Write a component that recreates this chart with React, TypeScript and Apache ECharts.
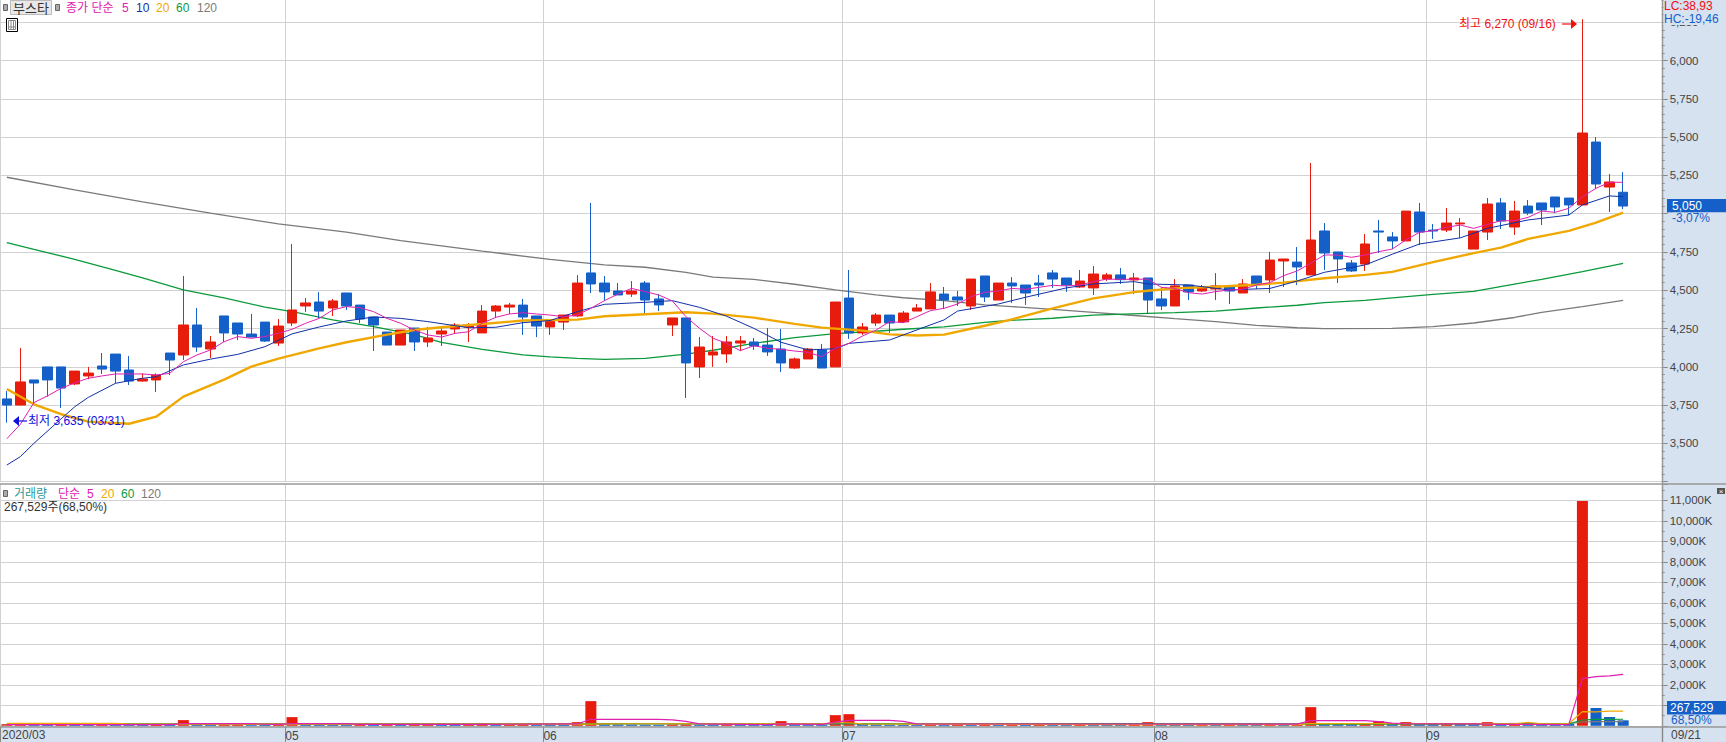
import React, { useEffect, useRef } from "react";
import * as echarts from "echarts";

const FONT = '"Liberation Sans","Noto Sans CJK KR",sans-serif';
const RED = "#e81c0c";
const BLUE = "#1460c8";
const MAGENTA = "#e020b0";
const NAVY = "#1030a8";
const ORANGE = "#f0a800";
const GREEN = "#0a9a3c";
const GREY = "#7a7a7a";
const PANEL = "#d6e2f0";
const GRID = "#d2d2d2";

// open, close, low, high
const candleRows: number[][] = [
  [3790,3750,3635,3842],[3750,3901,3750,4123],[3914,3894,3761,3914],[3999,3914,3805,3999],[3999,3861,3731,3999],
  [3888,3972,3881,3972],[3940,3959,3918,3999],[4005,3985,3953,4090],[4083,3972,3892,4083],[3979,3907,3881,4070],
  [3907,3920,3903,3957],[3914,3946,3835,3957],[4090,4044,3946,4090],[4077,4273,4044,4593],[4273,4129,4097,4384],
  [4116,4162,4057,4201],[4332,4221,4162,4332],[4286,4214,4175,4286],[4214,4194,4194,4345],[4292,4168,4162,4292],
  [4155,4266,4136,4312],[4286,4371,4266,4802],[4397,4417,4358,4449],[4423,4364,4319,4488],[4384,4430,4332,4443],
  [4482,4397,4371,4482],[4403,4312,4286,4403],[4325,4273,4103,4325],[4227,4142,4142,4227],[4142,4240,4142,4240],
  [4253,4162,4103,4253],[4162,4188,4129,4260],[4214,4234,4136,4260],[4247,4273,4214,4286],[4260,4273,4162,4286],
  [4221,4364,4221,4403],[4364,4397,4319,4403],[4390,4403,4345,4417],[4403,4325,4208,4443],[4332,4266,4194,4332],
  [4260,4299,4208,4312],[4292,4338,4240,4338],[4332,4547,4325,4599],[4613,4541,4482,5070],[4547,4489,4430,4593],
  [4495,4469,4469,4547],[4475,4495,4456,4560],[4547,4436,4345,4560],[4443,4404,4364,4475],[4273,4319,4201,4319],
  [4319,4025,3796,4319],[3999,4129,3927,4195],[4077,4097,3999,4201],[4084,4162,4025,4201],[4155,4169,4103,4201],
  [4162,4136,4110,4188],[4142,4097,4071,4253],[4116,4025,3966,4247],[3992,4051,3986,4060],[4051,4116,4051,4123],
  [4110,3992,3992,4149],[3999,4423,3999,4423],[4449,4221,4182,4632],[4221,4260,4208,4286],[4286,4338,4266,4351],
  [4338,4286,4221,4338],[4293,4351,4286,4364],[4364,4384,4364,4410],[4378,4489,4378,4547],[4475,4436,4378,4521],
  [4456,4436,4397,4495],[4397,4573,4371,4573],[4593,4456,4423,4593],[4436,4547,4436,4547],[4547,4528,4417,4586],
  [4534,4482,4404,4534],[4547,4534,4456,4600],[4613,4573,4515,4632],[4580,4534,4489,4580],[4521,4560,4515,4632],
  [4515,4606,4469,4658],[4573,4600,4560,4613],[4600,4569,4541,4645],[4567,4580,4475,4613],[4580,4436,4345,4580],
  [4443,4397,4371,4521],[4397,4528,4397,4573],[4534,4489,4436,4534],[4495,4515,4489,4534],[4508,4528,4436,4612],
  [4528,4495,4410,4528],[4482,4541,4482,4573],[4593,4541,4508,4593],[4567,4697,4482,4750],[4691,4704,4521,4704],
  [4684,4652,4534,4782],[4600,4828,4600,5331],[4887,4743,4632,4939],[4750,4704,4547,4750],[4678,4626,4619,4697],
  [4671,4802,4626,4867],[4887,4880,4743,4959],[4848,4822,4769,4880],[4822,5017,4822,5017],[5011,4880,4795,5070],
  [4893,4887,4835,4933],[4893,4939,4880,5037],[4933,4939,4841,4972],[4769,4887,4769,4887],[4880,5063,4828,5102],
  [5070,4952,4900,5102],[4913,5017,4861,5083],[5050,5004,4991,5089],[5070,5024,4926,5070],[5109,5044,5004,5109],
  [5102,5057,4991,5102],[5057,5527,5057,6270],[5468,5194,5161,5501],[5174,5207,5011,5259],[5140,5050,5030,5272],
];

const ma5: number[] = [
  3530,3624,3766,3810,3859,3895,3925,3940,3953,3953,3953,3946,3957,4033,4077,4110,4164,4197,4186,4197,
  4218,4245,4284,4316,4371,4393,4386,4360,4316,4284,4240,4208,4194,4218,4229,4284,4323,4345,4353,4345,
  4338,4327,4338,4382,4432,4475,4512,4491,4469,4430,4327,4251,4186,4153,4105,4138,4121,4114,4103,4094,
  4066,4121,4153,4201,4240,4295,4288,4327,4367,4382,4410,4458,4486,4495,4512,4506,4519,4532,4528,4534,
  4556,4573,4571,4571,4573,4519,4512,4484,4475,4491,4502,4506,4534,4550,4595,4626,4676,4730,4730,4715,
  4730,4752,4769,4828,4878,4889,4911,4926,4904,4930,4954,4954,4976,5017,5009,5035,5111,5166,5205,5205,
];

// values read at the marked sessions: [session, value]
const ma10Read: number[][] = [[0,3358],[1,3413],[2,3500],[4,3660],[5,3739],[6,3800],[8,3892],[10,3925],[11,3935],[13,4012],[15,4050],[17,4081],[19,4131],[21,4215],[23,4260],[25,4299],[27,4325],[29,4316],[31,4295],[34,4255],[36,4258],[38,4288],[40,4302],[42,4360],[44,4408],[47,4421],[49,4432],[51,4388],[53,4330],[55,4251],[57,4160],[59,4110],[61,4118],[62,4153],[65,4175],[66,4208],[69,4306],[70,4364],[73,4410],[75,4454],[78,4515],[80,4541],[83,4556],[84,4541],[87,4534],[90,4502],[93,4512],[95,4560],[97,4617],[100,4665],[102,4735],[104,4802],[107,4842],[109,4904],[112,4959],[115,4991],[116,5057],[118,5116],[119,5111]];
const ma20Read: number[][] = [[0,3855],[2,3755],[4,3690],[6,3642],[9,3628],[11,3674],[13,3805],[16,3916],[18,4001],[20,4053],[23,4120],[25,4160],[28,4210],[30,4240],[32,4258],[35,4279],[38,4302],[40,4305],[42,4308],[44,4330],[47,4343],[50,4356],[52,4347],[55,4321],[58,4280],[60,4256],[63,4236],[65,4212],[67,4204],[69,4210],[72,4268],[74,4310],[77,4382],[80,4447],[83,4488],[84,4497],[86,4512],[89,4523],[92,4536],[94,4550],[97,4578],[100,4600],[102,4620],[105,4684],[108,4742],[110,4778],[112,4835],[115,4888],[117,4941],[119,5007]];
const ma60Read: number[][] = [[0,4811],[2,4767],[5,4702],[8,4630],[10,4580],[13,4503],[16,4450],[19,4390],[21,4360],[24,4306],[27,4262],[30,4210],[32,4160],[35,4114],[38,4078],[40,4065],[42,4055],[44,4049],[47,4055],[50,4082],[52,4108],[55,4153],[58,4190],[61,4217],[64,4232],[66,4245],[69,4260],[72,4290],[74,4304],[77,4317],[80,4338],[84,4349],[86,4354],[89,4364],[92,4384],[95,4402],[97,4419],[100,4434],[102,4450],[105,4473],[108,4493],[111,4540],[113,4571],[116,4621],[119,4676]];
const ma120Read: number[][] = [[0,5238],[5,5155],[10,5077],[15,5003],[20,4933],[25,4879],[29,4824],[35,4755],[40,4702],[44,4665],[47,4650],[50,4617],[52,4586],[55,4571],[58,4539],[61,4502],[64,4470],[66,4451],[69,4432],[72,4405],[74,4393],[77,4375],[80,4356],[83,4335],[86,4314],[89,4295],[92,4271],[95,4255],[97,4249],[102,4251],[105,4262],[108,4286],[111,4322],[113,4356],[116,4393],[119,4434]];

// thousands of shares
const volumes: number[] = [
  70,75,60,50,62,52,45,60,50,42,38,50,45,277,65,55,60,70,60,50,
  65,423,80,70,60,50,60,50,60,50,60,65,55,48,60,130,60,70,75,60,
  50,45,179,1204,80,70,60,50,45,60,65,55,50,60,50,45,40,228,60,50,
  45,520,568,80,70,60,50,45,60,50,60,50,60,50,60,50,60,50,45,60,
  50,45,40,55,179,60,50,45,55,50,60,50,45,60,50,60,911,130,125,115,
  130,228,120,179,110,100,110,100,90,179,130,140,120,110,90,85,10966,868,429,267.529,
];
const volMa5Read: number[][] = [[0,60],[8,60],[9,55],[12,60],[13,105],[18,105],[19,75],[20,70],[21,105],[25,105],[26,70],[35,70],[42,90],[43,317],[48,317],[49,290],[50,220],[51,90],[56,60],[57,90],[60,70],[61,180],[62,260],[65,260],[66,220],[67,90],[95,80],[96,250],[100,250],[101,200],[102,130],[103,100],[108,90],[110,70],[115,60],[116,2298],[117,2400],[118,2440],[119,2512]];
const volMa20Read: number[][] = [[0,115],[8,115],[9,80],[42,85],[46,100],[60,100],[61,150],[62,150],[63,90],[82,60],[95,60],[96,110],[111,100],[112,170],[113,100],[115,100],[116,690],[117,680],[118,720],[119,720]];
const volMa60Read: number[][] = [[0,80],[42,80],[44,100],[82,100],[96,85],[115,95],[116,283],[117,316],[118,316],[119,320]];
const volMa120Read: number[][] = [[0,95],[60,95],[115,100],[116,185],[117,200],[119,200]];

const monthLabels: Record<number, string> = { 21: "05", 40: "06", 62: "07", 85: "08", 105: "09" };
const monthStarts = [0, 21, 40, 62, 85, 105];
const categories = Array.from({ length: 123 }, (_, i) => String(i));

const fromRead = (rows: number[][]) => {
  const out: (number | null)[] = Array(120).fill(null);
  rows.forEach(([i, v]) => (out[i] = v));
  return out;
};
const isMonthStart = (i: number) => monthStarts.includes(i);

const T = (text: string, x: number, y: number, fill: string, size = 12, z = 20, align = "left") => ({
  type: "text", x, y, z, silent: true,
  style: { text, fill, font: `${size}px ${FONT}`, textAlign: align, textVerticalAlign: "middle" },
});
const R = (x: number, y: number, width: number, height: number, fill: string, z = 20, stroke?: string) => ({
  type: "rect", z, silent: true, shape: { x, y, width, height }, style: { fill, stroke, lineWidth: stroke ? 1 : 0 },
});
const L = (x1: number, y1: number, x2: number, y2: number, stroke: string, lineWidth = 1, z = 15) => ({
  type: "line", z, silent: true, shape: { x1, y1, x2, y2 }, style: { stroke, lineWidth },
});

const line = (name: string, data: any[], color: string, width: number, x: number, y: number, z = 3) => ({
  name, type: "line", data, xAxisIndex: x, yAxisIndex: y, symbol: "none", connectNulls: true, z,
  lineStyle: { color, width }, itemStyle: { color }, silent: true,
});

export default function App() {
  const ref = useRef<HTMLDivElement>(null);
  useEffect(() => {
    document.body.style.margin = "0";
    const chart = echarts.init(ref.current!, null, { renderer: "svg" });
    const gridLeft = -0.5;
    const gridWidth = 1671.2;
    const valueAxisOffset = -9;
    const hiddenLabels = { show: false };
    chart.setOption({
      animation: false,
      backgroundColor: "#fff",
      grid: [
        { left: gridLeft, top: 0, width: gridWidth, height: 481.6, containLabel: false },
        { left: gridLeft, top: 484, width: gridWidth, height: 241.8, containLabel: false },
      ],
      xAxis: [
        {
          type: "category", gridIndex: 0, data: categories, boundaryGap: true,
          axisLine: { show: false }, axisTick: { show: false }, axisLabel: hiddenLabels,
          splitLine: { show: true, interval: (i: number) => isMonthStart(i), lineStyle: { color: GRID, width: 1 } },
        },
        {
          type: "category", gridIndex: 1, data: categories, boundaryGap: true,
          axisLine: { show: false },
          axisTick: { show: true, interval: (i: number) => isMonthStart(i), length: 17, lineStyle: { color: "#888", width: 1 } },
          axisLabel: {
            show: true, interval: (i: number) => monthLabels[i] !== undefined,
            formatter: (v: string) => monthLabels[Number(v)] ?? "",
            color: "#444", fontSize: 12, fontFamily: FONT, margin: 4,
          },
          splitLine: { show: true, interval: (i: number) => isMonthStart(i), lineStyle: { color: GRID, width: 1 } },
        },
      ],
      yAxis: [
        {
          type: "value", gridIndex: 0, position: "right", min: 3250, max: 6395.8, interval: 250, scale: true,
          axisLine: { show: false }, axisTick: { show: false }, axisLabel: hiddenLabels,
          splitLine: { show: true, showMaxLine: false, lineStyle: { color: GRID, width: 1 } },
        },
        {
          type: "value", gridIndex: 0, position: "right", offset: valueAxisOffset, min: 3250, max: 6395.8, interval: 250, z: 10,
          axisLine: { show: false },
          axisTick: { show: true, length: 6, lineStyle: { color: "#888" } },
          minorTick: { show: true, splitNumber: 5, length: 3, lineStyle: { color: "#888" } },
          axisLabel: {
            show: true, margin: 8, color: "#444", fontSize: 11.5, fontFamily: FONT, showMinLabel: false, showMaxLabel: false,
            formatter: (v: number) => v.toLocaleString("en-US"),
          },
          splitLine: { show: false },
        },
        {
          type: "value", gridIndex: 1, position: "right", min: 0, max: 11795, interval: 1000,
          axisLine: { show: false }, axisTick: { show: false }, axisLabel: hiddenLabels,
          splitLine: { show: true, showMaxLine: false, lineStyle: { color: GRID, width: 1 } },
        },
        {
          type: "value", gridIndex: 1, position: "right", offset: valueAxisOffset, min: 0, max: 11795, interval: 1000, z: 10,
          axisLine: { show: false },
          axisTick: { show: true, length: 6, lineStyle: { color: "#888" } },
          minorTick: { show: true, splitNumber: 2, length: 3, lineStyle: { color: "#888" } },
          axisLabel: {
            show: true, margin: 8, color: "#444", fontSize: 11.5, fontFamily: FONT, showMinLabel: false, showMaxLabel: false,
            formatter: (v: number) => v.toLocaleString("en-US") + "K",
          },
          splitLine: { show: false },
        },
      ],
      series: [
        line("MA120", fromRead(ma120Read), GREY, 1.3, 0, 0),
        line("MA60", fromRead(ma60Read), GREEN, 1.3, 0, 0),
        {
          name: "봉", type: "candlestick", xAxisIndex: 0, yAxisIndex: 0, barWidth: 10, z: 4, silent: true,
          data: candleRows,
          itemStyle: { color: RED, color0: BLUE, borderColor: RED, borderColor0: BLUE, borderWidth: 1 },
        },
        line("MA20", fromRead(ma20Read), ORANGE, 2.4, 0, 0, 5),
        line("MA10", fromRead(ma10Read), NAVY, 1, 0, 0, 6),
        line("MA5", ma5, MAGENTA, 1, 0, 0, 7),
        {
          name: "거래량", type: "bar", xAxisIndex: 1, yAxisIndex: 2, barWidth: 11, z: 2, silent: true,
          data: volumes,
          itemStyle: {
            color: (p: any) => (p.dataIndex === 0 || volumes[p.dataIndex] > volumes[p.dataIndex - 1] ? RED : BLUE),
          },
        },
        line("V120", fromRead(volMa120Read), GREY, 1.2, 1, 2),
        line("V60", fromRead(volMa60Read), GREEN, 1.2, 1, 2, 4),
        line("V20", fromRead(volMa20Read), ORANGE, 1.2, 1, 2, 5),
        line("V5", fromRead(volMa5Read), MAGENTA, 1.2, 1, 2, 6),
      ],
      graphic: {
        elements: [
          R(0, 727, 1726, 15, PANEL, -1),
          R(1662, 0, 64, 742, PANEL, 1),
          L(0, 484, 1726, 484, "#999", 1.5),
          L(0, 727, 1726, 727, "#999", 1.5),
          L(1662.5, 0, 1662.5, 742, "#999", 1.5),
          // top legend
          R(3.5, 4.5, 4, 6, "#aaa", 20, "#666"),
          R(10.5, 0.5, 41, 14, "#e8e8e8", 20, "#bbb"),
          T("부스타", 31, 8, "#333", 13, 21, "center"),
          R(55.5, 4.5, 4, 6, "#aaa", 20, "#666"),
          T("종가 단순", 66, 8, MAGENTA),
          T("5", 122, 8, MAGENTA),
          T("10", 136, 8, NAVY),
          T("20", 156, 8, ORANGE),
          T("60", 176, 8, GREEN),
          T("120", 197, 8, GREY),
          R(6.5, 18.5, 11, 13, "#fff", 20, "#000"),
          R(8.5, 20.5, 7, 9, "#fff", 21, "#888"),
          L(11, 20, 11, 30, "#888", 1, 22),
          L(13.5, 20, 13.5, 30, "#888", 1, 22),
          L(8, 27, 16, 27, "#888", 1, 22),
          // price annotations
          T("최고 6,270 (09/16)", 1459, 24, "#f01010"),
          L(1562, 24, 1574, 24, "#f01010", 1.2),
          { type: "polygon", z: 15, silent: true, shape: { points: [[1571, 19], [1577, 24], [1571, 29]] }, style: { fill: "#f01010" } },
          T("최저 3,635 (03/31)", 28, 421, "#1010e0"),
          L(17, 421, 27, 421, "#1010e0", 1.2),
          { type: "polygon", z: 15, silent: true, shape: { points: [[13, 421], [19, 416], [19, 426]] }, style: { fill: "#1010e0" } },
          // right panel: the read-outs sit on top of the axis labels that they share a row with
          R(1663.5, 0, 62, 25, PANEL, 18),
          T("LC:38,93", 1664, 6, "#f01010", 12),
          T("HC:-19,46", 1664, 19, BLUE, 12),
          R(1667, 199, 59, 13.5, BLUE, 18),
          T("5,050", 1672, 206, "#fff", 12),
          R(1669, 212.5, 57, 12, PANEL, 18),
          T("-3,07%", 1672, 218, BLUE, 12),
          // volume legend
          R(3.5, 490.5, 4, 6, "#aaa", 20, "#666"),
          T("거래량", 14, 494, "#2a9a9a"),
          T("단순", 58, 494, MAGENTA),
          T("5", 87, 494, MAGENTA),
          T("20", 101, 494, ORANGE),
          T("60", 121, 494, GREEN),
          T("120", 141, 494, GREY),
          T("267,529주(68,50%)", 4, 507, "#333"),
          R(1717, 488, 8, 6, "#555", 20),
          T("×", 1721, 491, "#fff", 8, 21, "center"),
          R(1667, 701, 59, 13.5, BLUE, 18),
          T("267,529", 1670, 708, "#fff", 12),
          T("68,50%", 1671, 720, BLUE, 12),
          // bottom strip
          T("2020/03", 2, 735, "#444", 12),
          T("09/21", 1671, 735, "#444", 12),
          L(1662.5, 727, 1662.5, 742, "#888", 1),
        ],
      },
    });
    return () => chart.dispose();
  }, []);
  return <div ref={ref} style={{ width: 1726, height: 742, position: "absolute", left: 0, top: 0 }} />;
}
